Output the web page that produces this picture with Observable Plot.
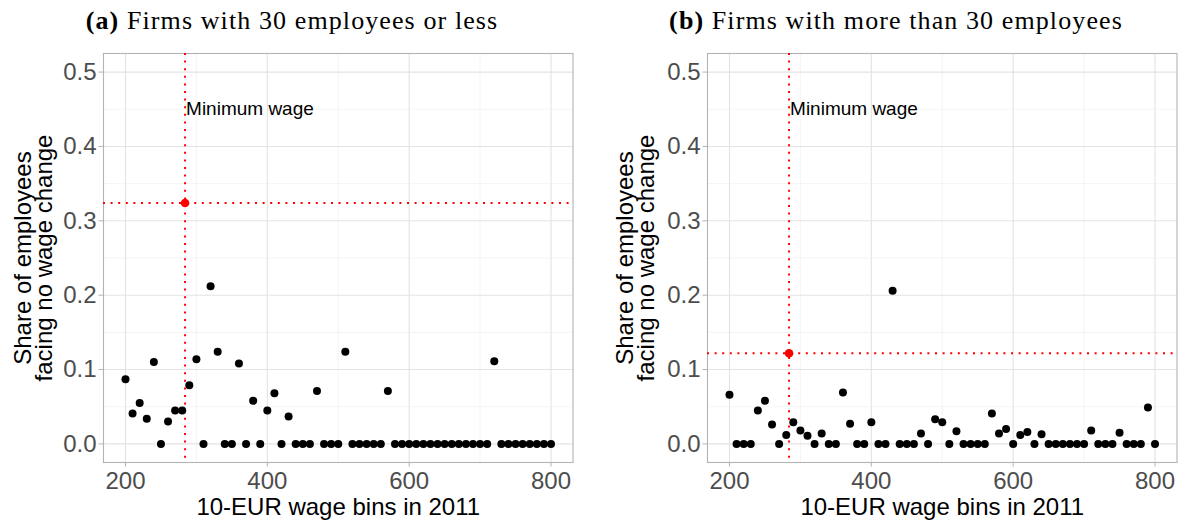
<!DOCTYPE html>
<html>
<head>
<meta charset="utf-8">
<script src="https://cdn.jsdelivr.net/npm/d3@7"></script>
<script src="https://cdn.jsdelivr.net/npm/@observablehq/plot@0.6"></script>
<style>
  body { margin: 0; background: #fff; }
  #wrap { position: relative; width: 1179px; height: 527px; overflow: hidden; background: #fff; }
  .ttl { position: absolute; top: 1px; font-family: "Liberation Serif", "Times New Roman", serif; font-size: 26px;
         letter-spacing: 1.1px; white-space: nowrap; transform: translateX(-50%); line-height: 40px; color: #000; }
  .panel { position: absolute; top: 38px; }
</style>
</head>
<body>
<div id="wrap">
  <div class="ttl" id="ta" style="left:292px"></div>
  <div class="ttl" id="tb" style="left:896px"></div>
  <div class="panel" id="pa" style="left:0px"></div>
  <div class="panel" id="pb" style="left:589px"></div>
</div>
<script>
// ---- data ----
const wageBins = [200,210,220,230,240,250,260,270,280,290,300,310,320,330,340,350,360,370,380,390,
                  400,410,420,430,440,450,460,470,480,490,500,510,520,530,540,550,560,570,580,590,
                  600,610,620,630,640,650,660,670,680,690,700,710,720,730,740,750,760,770,780,790,800];

const shareSmall = [0.087,0.041,0.055,0.034,0.110,0,0.030,0.045,0.045,0.079,
                    0.114,0,0.212,0.124,0,0,0.108,0,0.058,0,
                    0.045,0.068,0,0.037,0,0,0,0.071,0,0,
                    0,0.124,0,0,0,0,0,0.071,0,0,
                    0,0,0,0,0,0,0,0,0,0,
                    0,0,0.111,0,0,0,0,0,0,0,0];

const shareLarge = [0.066,0,0,0,0.045,0.058,0.026,0,0.012,0.029,
                    0.018,0.011,0,0.014,0,0,0.069,0.027,0,0,
                    0.029,0,0,0.206,0,0,0,0.014,0,0.033,
                    0.029,0,0.017,0,0,0,0,0.041,0.014,0.020,
                    0,0.012,0.016,0,0.013,0,0,0,0,0,
                    0,0.018,0,0,0,0.015,0,0,0,0.049,0];

const minWage = 284;
const minWageShare = { small: 0.324, large: 0.122 };

const panelTitles = [
  ["(a)", " Firms with 30 employees or less"],
  ["(b)", " Firms with more than 30 employees"]
];
const minWageLabel = "Minimum wage";
const xTitle = "10-EUR wage bins in 2011";
const yTitle = "Share of employees\nfacing no wage change";

const xMajor = [200, 400, 600, 800];
const xMinor = [300, 500, 700];
const yMajor = [0, 0.1, 0.2, 0.3, 0.4, 0.5];
const yMinor = [0.05, 0.15, 0.25, 0.35, 0.45];

// ---- titles ----
function setTitle(id, parts) {
  const el = document.getElementById(id);
  const b = document.createElement("b");
  b.textContent = parts[0];
  el.appendChild(b);
  el.appendChild(document.createTextNode(parts[1]));
}
setTitle("ta", panelTitles[0]);
setTitle("tb", panelTitles[1]);

// ---- panels ----
function panel(vals, refShare, width, ml, mr, ytdx) {
  const data = wageBins.map((w, i) => ({ w, s: vals[i] }));
  const dotted = { stroke: "red", strokeWidth: 2, strokeDasharray: "2,5.6" };
  return Plot.plot({
    width, height: 489,
    marginTop: 15, marginBottom: 65, marginLeft: ml, marginRight: mr,
    x: { domain: [169, 831] },
    y: { domain: [-0.025, 0.525] },
    style: { fontFamily: "'Liberation Sans', Arial, sans-serif", background: "white", overflow: "visible" },
    marks: [
      Plot.gridX(xMinor, { stroke: "#ececec", strokeOpacity: 1, strokeWidth: 0.6 }),
      Plot.gridX(xMajor, { stroke: "#e3e3e3", strokeOpacity: 1, strokeWidth: 1.1 }),
      Plot.gridY(yMinor, { stroke: "#ececec", strokeOpacity: 1, strokeWidth: 0.6 }),
      Plot.gridY(yMajor, { stroke: "#e3e3e3", strokeOpacity: 1, strokeWidth: 1.1 }),
      Plot.frame({ stroke: "#b3b3b3", strokeWidth: 1.1 }),
      Plot.axisX(xMajor, { tickSize: 4.5, tickPadding: 5, fontSize: 24, fill: "#4d4d4d", stroke: "#b3b3b3", label: null }),
      Plot.axisY(yMajor, { tickSize: 4.5, tickPadding: 2.5, fontSize: 24, fill: "#4d4d4d", stroke: "#b3b3b3",
                           tickFormat: d3.format(".1f"), label: null }),
      Plot.ruleX([minWage], dotted),
      Plot.ruleY([refShare], dotted),
      Plot.dot(data, { x: "w", y: "s", r: 4, fill: "black" }),
      Plot.dot([{ w: minWage, s: refShare }], { x: "w", y: "s", r: 4.3, fill: "red" }),
      Plot.text([{ w: minWage, s: 0.45, t: minWageLabel }], { x: "w", y: "s", text: "t", textAnchor: "start",
                 fontSize: 19, fill: "black", dx: 1 }),
      Plot.text([xTitle], { frameAnchor: "bottom", lineAnchor: "top", dy: 35, fontSize: 24, fill: "black" }),
      Plot.text([yTitle], { frameAnchor: "left", textAnchor: "middle", lineAnchor: "middle", rotate: -90,
                            lineHeight: 0.9, fontSize: 24, dx: ytdx, fill: "black" })
    ]
  });
}

document.getElementById("pa").appendChild(panel(shareSmall, minWageShare.small, 589, 103, 16.5, -69));
document.getElementById("pb").appendChild(panel(shareLarge, minWageShare.large, 590, 118, 2.5, -71));
</script>
</body>
</html>
